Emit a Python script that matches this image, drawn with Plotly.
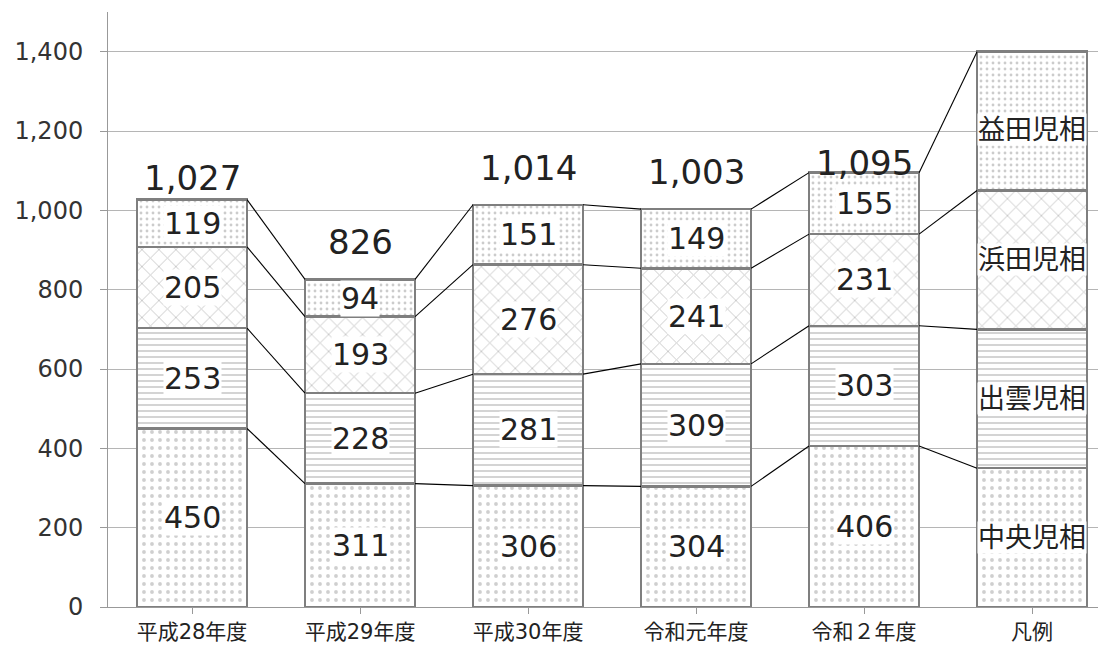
import plotly.graph_objects as go

categories = ["平成28年度", "平成29年度", "平成30年度", "令和元年度", "令和２年度", "凡例"]
series_names = ["中央児相", "出雲児相", "浜田児相", "益田児相"]
chuo = [450, 311, 306, 304, 406, 350]
izumo = [253, 228, 281, 309, 303, 350]
hamada = [205, 193, 276, 241, 231, 350]
masuda = [119, 94, 151, 149, 155, 350]
totals = [1027, 826, 1014, 1003, 1095]
total_labels = ["1,027", "826", "1,014", "1,003", "1,095"]

series = [chuo, izumo, hamada, masuda]
patterns = [
    dict(shape=".", size=8, solidity=0.18, fgcolor="#a0a0a0", bgcolor="white"),
    dict(shape="-", size=6, solidity=0.25, fgcolor="#8c8c8c", bgcolor="white"),
    dict(shape="x", size=12, solidity=0.14, fgcolor="#8a8a8a", bgcolor="white"),
    dict(shape=".", size=6, solidity=0.18, fgcolor="#9a9a9a", bgcolor="white"),
]

FONT = "DejaVu Sans, Noto Sans CJK JP"
BAR_W = 0.655
xs = list(range(len(categories)))

fig = go.Figure()
for name, vals, pat in zip(series_names, series, patterns):
    fig.add_trace(go.Bar(
        x=xs, y=vals, name=name, width=BAR_W,
        marker=dict(color="white", pattern=pat,
                    line=dict(color="#7f7f7f", width=2.5)),
        showlegend=False, hoverinfo="skip"))

# series lines connecting segment tops
n = len(categories)
cum = [[0] * n]
for vals in series:
    cum.append([cum[-1][i] + vals[i] for i in range(n)])
lx, ly = [], []
for level in cum[1:]:
    for i in range(n - 1):
        lx += [xs[i] + BAR_W / 2, xs[i + 1] - BAR_W / 2, None]
        ly += [level[i], level[i + 1], None]
fig.add_trace(go.Scatter(x=lx, y=ly, mode="lines",
                         line=dict(color="black", width=1.1),
                         showlegend=False, hoverinfo="skip"))

annotations = []
# value labels in segments
for k, vals in enumerate(series):
    for i in range(n - 1):
        mid = cum[k][i] + vals[i] / 2
        annotations.append(dict(x=xs[i], y=mid, text=f"{vals[i]:,}", showarrow=False,
                                font=dict(family=FONT, size=30, color="#222"),
                                bgcolor="white", borderpad=0))
    # legend bar labels
    mid = cum[k][n - 1] + vals[n - 1] / 2
    annotations.append(dict(x=xs[n - 1], y=mid, text=series_names[k], showarrow=False,
                            font=dict(family=FONT, size=27, color="#222"),
                            bgcolor="white", borderpad=0,
                            yshift=-8 if k == 3 else 0))
# totals
total_shift = [22, 37, 37, 37, 10]
for i, (t, lab) in enumerate(zip(totals, total_labels)):
    annotations.append(dict(x=xs[i], y=t, text=lab, showarrow=False, yanchor="middle",
                            yshift=total_shift[i],
                            font=dict(family=FONT, size=34, color="#222")))

# page body has an 8px margin: offset the figure so the plot area matches
fig.update_layout(
    width=1098, height=638,
    margin=dict(l=100, r=0, t=4, b=39),
    barmode="stack", bargap=0.3,
    plot_bgcolor="white", paper_bgcolor="white",
    annotations=annotations,
    font=dict(family=FONT, color="#333"),
)
fig.update_xaxes(
    tickmode="array", tickvals=xs, ticktext=categories,
    range=[-0.5, 5.44], tickson="boundaries", automargin=False,
    ticks="outside", ticklen=6, tickcolor="#999",
    showline=True, linecolor="#999", linewidth=1,
    showgrid=False, tickfont=dict(size=21, color="#222", family=FONT),
)
fig.update_yaxes(
    range=[0, 1500], dtick=200, tickformat=",", automargin=False,
    ticks="outside", ticklen=7, tickcolor="#999",
    showline=True, linecolor="#999", linewidth=1,
    showgrid=True, gridcolor="#b5b5b5", gridwidth=1,
    zeroline=False, ticklabelstandoff=12,
    tickfont=dict(size=24, color="#333", family=FONT),
)

fig.write_html("out.html")
